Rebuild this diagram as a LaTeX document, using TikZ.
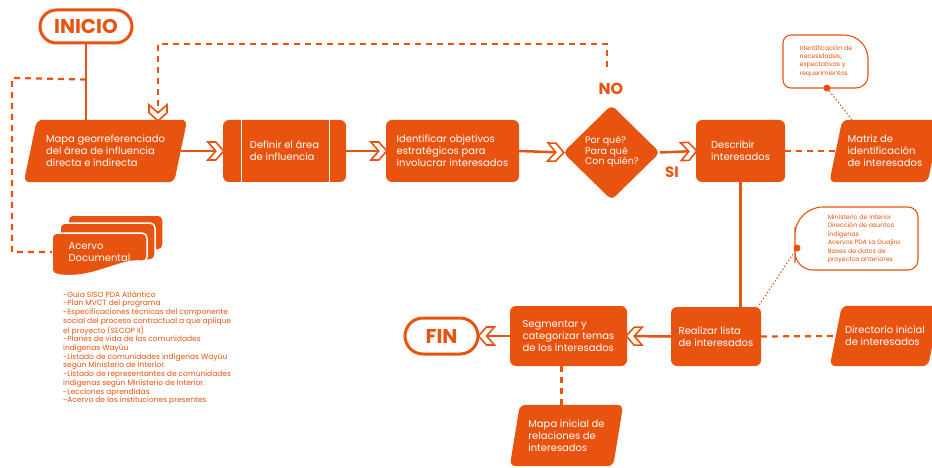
\documentclass[tikz,border=0pt]{standalone}
\usepackage{fontspec}
\setmainfont{Poppins}
\usetikzlibrary{shapes.geometric,decorations.markings,backgrounds}
\definecolor{orng}{RGB}{232,83,15}
\newcommand\parafill[2]{\begin{pgfonlayer}{background}\fill[orng, rounded corners=6pt] ([xshift=#2]#1.north west) -- ([xshift=#2]#1.north east) -- ([xshift=-#2]#1.south east) -- ([xshift=-#2]#1.south west) -- cycle;\end{pgfonlayer}}
\begin{document}
\begin{tikzpicture}[x=1pt,y=1pt,
  box/.style={fill=orng, rounded corners=6pt, text=white, align=left, font=\fontsize{10}{12}\selectfont, inner sep=0pt},
  ptext/.style={text=white, align=left, font=\fontsize{10}{12}\selectfont, inner sep=0pt},
  term/.style={draw=orng, line width=3pt, fill=white, text=orng, font=\fontsize{20}{22}\selectfont\bfseries, inner sep=0pt},
  conn/.style={draw=orng, line width=2.5pt},
  dashconn/.style={draw=orng, line width=2.2pt, dash pattern=on 6pt off 5pt},
  dotconn/.style={draw=orng, line width=1pt, dash pattern=on 1.5pt off 2pt},
  chev/.style={postaction={decorate,decoration={markings,mark=at position 1 with {\filldraw[solid, fill=white, draw=orng, line width=1.6pt, line join=miter] (1pt,0pt) -- (-7pt,9pt) -- (-15pt,9pt) -- (-7pt,0pt) -- (-15pt,-9pt) -- (-7pt,-9pt) -- cycle;}}}},
  callout/.style={draw=orng, line width=1.1pt, fill=white},
  ctext/.style={text=orng, align=left, font=\fontsize{6.3}{8.4}\selectfont, inner sep=0pt},
  sheet/.style={fill=orng, draw=white, line width=1.5pt, rounded corners=5pt},
  lbl/.style={text=orng, inner sep=0pt}
]
\useasboundingbox (0,0) rectangle (932,-468);
\begin{pgfonlayer}{background}
\fill[white] (0,0) rectangle (932,-468);
\end{pgfonlayer}

% terminals
\node[term, rounded corners=16.5pt, minimum width=92pt, minimum height=33pt] (inicio) at (86,-26.5) {INICIO};
\node[term, rounded corners=18pt, minimum width=73pt, minimum height=36pt] (fin) at (441.5,-336) {FIN};

% top row
\node[ptext, minimum width=150pt, minimum height=62pt] (mapa) at (105.5,-151) {Mapa georreferenciado\\del área de influencia\\directa e indirecta};
\parafill{mapa}{6.5pt}
\node[box, minimum width=123pt, minimum height=62pt] (definir) at (284.5,-151) {Definir el área\\de influencia};
\draw[white, line width=1.3pt] ([xshift=19pt]definir.north west) -- ([xshift=19pt]definir.south west);
\draw[white, line width=1.3pt] ([xshift=-17pt]definir.north east) -- ([xshift=-17pt]definir.south east);
\node[box, minimum width=133pt, minimum height=62pt] (ident) at (452.5,-151) {Identificar objetivos\\estratégicos para\\involucrar interesados};
\node[diamond, fill=orng, minimum width=97pt, minimum height=95pt, inner sep=0pt, rounded corners=5pt] (dia) at (611.5,-152.5) {};
\node[ptext, font=\fontsize{9.5}{10.5}\selectfont] (dtext) at (612,-152) {Por qué?\\Para qué\\Con quién?};
\node[lbl, font=\fontsize{16}{18}\selectfont\bfseries] (no) at (611,-89) {NO};
\node[lbl, font=\fontsize{15}{17}\selectfont\bfseries] (si) at (672,-172) {SI};
\node[box, minimum width=89pt, minimum height=62pt] (describir) at (740.5,-151) {Describir\\interesados};
\node[ptext, minimum width=98pt, minimum height=62pt] (matriz) at (885,-151) {Matriz de\\identificación\\de interesados};
\parafill{matriz}{6.5pt}

% callout 1
\draw[callout] (783,-62) [rounded corners=8pt] -- (783,-35) [rounded corners=24pt] -- (868,-35) [rounded corners=12pt] -- (868,-88) [rounded corners=8pt] -- (783,-88) -- cycle;
\node[ctext] (c1) at (826,-61) {Identificación de\\necesidades,\\expectativas y\\requerimientos};
\node[circle, fill=orng, inner sep=0pt, minimum size=7pt] (dot1) at (827,-88) {};

% callout 2
\draw[callout] (795,-245) [rounded corners=28pt] -- (795,-207) [rounded corners=10pt] -- (918,-207) -- (918,-270) [rounded corners=18pt] -- (795,-270) -- cycle;
\node[ctext] (c2) at (864,-239) {Ministerio de Interior\\Dirección de asuntos\\indígenas\\Acervos PDA La Guajira\\Bases de datos de\\proyectos anteriores};
\node[circle, fill=orng, inner sep=0pt, minimum size=7pt] (dot2) at (797,-248) {};

% bottom row
\node[box, minimum width=90pt, minimum height=59pt] (realizar) at (716,-336.5) {Realizar lista\\de interesados};
\node[ptext, minimum width=98pt, minimum height=60pt] (directorio) at (885,-336) {Directorio inicial\\de interesados};
\parafill{directorio}{6pt}
\node[box, minimum width=117pt, minimum height=60pt] (segmentar) at (568.5,-336) {Segmentar y\\categorizar temas\\de los interesados};
\node[ptext, minimum width=103pt, minimum height=61pt] (mapaini) at (566.5,-435.5) {Mapa inicial de\\relaciones de\\interesados};
\parafill{mapaini}{5pt}

% acervo documental
\draw[sheet] (68,-215) rectangle (163,-250);
\draw[sheet] (60,-223) rectangle (155,-260);
\filldraw[sheet] (52,-262) [rounded corners=5pt] -- (52,-233) -- (147,-233) -- (147,-262) [sharp corners] .. controls (120,-258) and (92,-281) .. (56,-274.5) [rounded corners=5pt] -- (52,-274.5) -- cycle;
\node[ptext, minimum width=95pt, minimum height=39pt] (acervo) at (99.5,-252) {Acervo\\Documental};
\node[lbl, anchor=north west, align=left, font=\fontsize{7.5}{8.7}\selectfont] (lista) at (63,-291) {-Guía SISO PDA Atlántico\\-Plan MVCT del programa\\-Especificaciones técnicas del componente\\social del proceso contractual a que aplique\\el proyecto (SECOP II)\\-Planes de vida de las comunidades\\indígenas Wayúu\\-Listado de comunidades indígenas Wayúu\\según Ministerio de Interior.\\-Listado de representantes de comunidades\\indígenas según Ministerio de Interior.\\-Lecciones aprendidas\\-Acervo de las instituciones presentes};

% connectors
\coordinate (j1) at ([yshift=-35pt]inicio.south);
\coordinate (lft) at (12,-78);
\coordinate (nostart) at (607,-67);
\coordinate (topturn) at (158,-44);
\draw[conn] (inicio.south) -- (inicio.south |- mapa.north);
\draw[dashconn] (j1) -- (lft) |- (acervo.west);
\draw[dashconn, chev] (nostart) |- (topturn) -- (topturn |- mapa.north);
\draw[conn, chev] (mapa.east) -- (definir.west);
\draw[conn, chev] (definir.east) -- (ident.west);
\draw[conn, chev] (ident.east) -- (dia.west);
\draw[conn, chev] (dia.east) -- (describir.west);
\draw[dashconn] (describir.east) -- (matriz.west);
\draw[dotconn] (dot1) -- ([xshift=-33pt]matriz.north);
\draw[conn] (describir.south) -- (describir.south |- realizar.north);
\draw[dotconn] (dot2) -- ([xshift=42pt]realizar.north);
\draw[dashconn] (realizar.east) -- (directorio.west);
\draw[conn, chev] (realizar.west) -- (segmentar.east);
\draw[conn, chev] (segmentar.west) -- (fin.east);
\draw[dashconn] ([xshift=-7pt]segmentar.south) -- ([xshift=-7pt]segmentar.south |- mapaini.north);
\end{tikzpicture}
\end{document}
